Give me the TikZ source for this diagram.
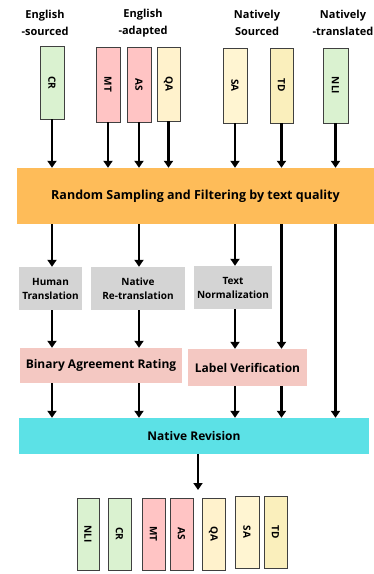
\documentclass[tikz,border=0pt]{standalone}
\usepackage{fontspec}
\setmainfont{Open Sans}
\usetikzlibrary{arrows.meta}
\definecolor{cgreen}{HTML}{DAF2D0}
\definecolor{cpink}{HTML}{FFC4C4}
\definecolor{cyelA}{HTML}{FFF2CC}
\definecolor{cyelB}{HTML}{FFF5D2}
\definecolor{cyelC}{HTML}{FAEFBC}
\definecolor{corange}{HTML}{FEBC59}
\definecolor{cgray}{HTML}{D4D4D4}
\definecolor{crate}{HTML}{F4C8C2}
\definecolor{ccyan}{HTML}{5CE1E6}
\begin{document}
\begin{tikzpicture}[x=1pt,y=-1pt,
  dset/.style={draw=black!75, line width=0.7pt, minimum width=#1, inner sep=0pt},
  tall/.style={minimum height=75pt},
  short/.style={minimum height=72pt},
  lbl/.style={font=\bfseries\fontsize{10}{11}\selectfont, rotate=-90},
  head/.style={font=\bfseries\fontsize{11}{17}\selectfont, align=center},
  stage/.style={inner sep=0pt, font=\bfseries\fontsize{#1}{14}\selectfont, align=center},
  arr/.style={line width=2.2pt, -{Triangle[width=9pt,length=7pt]}}]
\useasboundingbox (0,0) rectangle (374,574);
% headers
\node[head] (h1) at (45,23) {English\\-sourced};
\node[head] (h2) at (143,23) {English\\-adapted};
\node[head] (h3) at (257,23) {Natively\\Sourced};
\node[head] (h4) at (343,23) {Natively\\-translated};
% top datasets
\node[dset=24pt, minimum height=73pt, fill=cgreen] (CR) at (52,82.5) {};
\node[lbl] at (CR) {CR};
\node[dset=24pt, tall, fill=cpink] (MT) at (108,84.5) {};
\node[lbl] at (MT) {MT};
\node[dset=24pt, tall, fill=cpink] (AS) at (139,84.5) {};
\node[lbl] at (AS) {AS};
\node[dset=23pt, minimum height=74pt, fill=cyelA] (QA) at (168.5,84) {};
\node[lbl] at (QA) {QA};
\node[dset=24pt, tall, fill=cyelB] (SA) at (235,85.5) {};
\node[lbl] at (SA) {SA};
\node[dset=23pt, tall, fill=cyelC] (TD) at (281.5,85.5) {};
\node[lbl] at (TD) {TD};
\node[dset=25pt, tall, fill=cgreen] (NLI) at (335.5,85.5) {};
\node[lbl] at (NLI) {NLI};
% stages
\node[stage=12.5, fill=corange, minimum width=357pt, minimum height=56pt] (RS) at (195.5,196) {Random Sampling and Filtering by text quality};
\node[stage=10, fill=cgray, minimum width=63pt, minimum height=43pt] (HT) at (50.5,288.5) {Human\\Translation};
\node[stage=10, fill=cgray, minimum width=94pt, minimum height=43pt] (NRT) at (138,288.5) {Native\\Re-translation};
\node[stage=10, fill=cgray, minimum width=78pt, minimum height=43pt] (TN) at (233,287.5) {Text\\Normalization};
\node[stage=12, fill=crate, minimum width=162pt, minimum height=35pt] (BAR) at (101,365.5) {Binary Agreement Rating};
\node[stage=12, fill=crate, minimum width=119pt, minimum height=37pt] (LV) at (247.5,367.5) {Label Verification};
\node[stage=12, fill=ccyan, minimum width=350pt, minimum height=36pt] (NRV) at (194,436) {Native Revision};
\coordinate (out) at (198,490);
% bottom datasets
\node[dset=22pt, short, fill=cgreen] (bNLI) at (88,534) {};
\node[lbl] at (bNLI) {NLI};
\node[dset=23pt, short, fill=cgreen] (bCR) at (119.5,534) {};
\node[lbl] at (bCR) {CR};
\node[dset=23pt, short, fill=cpink] (bMT) at (153.5,534) {};
\node[lbl] at (bMT) {MT};
\node[dset=23pt, short, fill=cpink] (bAS) at (181.5,534) {};
\node[lbl] at (bAS) {AS};
\node[dset=23pt, short, fill=cyelA] (bQA) at (213.5,534) {};
\node[lbl] at (bQA) {QA};
\node[dset=24pt, short, fill=cyelB] (bSA) at (247,532) {};
\node[lbl] at (bSA) {SA};
\node[dset=23pt, short, fill=cyelC] (bTD) at (275.5,532) {};
\node[lbl] at (bTD) {TD};
% arrows into sampling
\foreach \s in {CR,MT,AS,QA,SA,TD,NLI}
  \draw[arr] (\s.south) -- (\s.south |- RS.north);
% sampling to gray boxes
\draw[arr] (RS.south -| CR) -- (HT.north -| CR);
\draw[arr] (RS.south -| AS) -- (NRT.north -| AS);
\draw[arr] (RS.south -| SA) -- (TN.north -| SA);
\draw[arr] (RS.south -| TD) -- (LV.north -| TD);
\draw[arr] (RS.south -| NLI) -- (NRV.north -| NLI);
% gray to rating
\draw[arr] (HT.south -| CR) -- (BAR.north -| CR);
\draw[arr] (NRT.south -| AS) -- (BAR.north -| AS);
\draw[arr] (TN.south -| SA) -- (LV.north -| SA);
% rating to revision
\draw[arr] (BAR.south -| CR) -- (NRV.north -| CR);
\draw[arr] (BAR.south -| AS) -- (NRV.north -| AS);
\draw[arr] (LV.south -| SA) -- (NRV.north -| SA);
\draw[arr] (LV.south -| TD) -- (NRV.north -| TD);
% output
\draw[arr] (NRV.south -| out) -- (out);
\end{tikzpicture}
\end{document}
